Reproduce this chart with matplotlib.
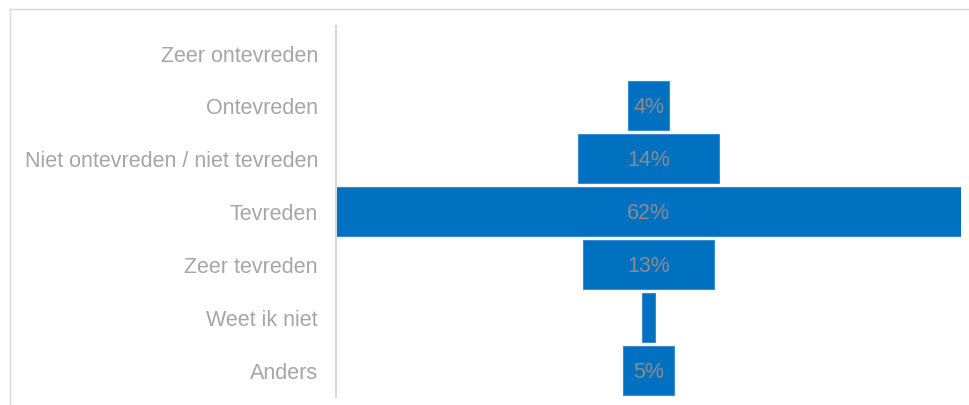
import matplotlib.pyplot as plt
from matplotlib.lines import Line2D

categories = ['Zeer ontevreden', 'Ontevreden', 'Niet ontevreden / niet tevreden',
              'Tevreden', 'Zeer tevreden', 'Weet ik niet', 'Anders']
values = [0, 4, 14, 62, 13, 1.3, 5]
labels = ['', '4%', '14%', '62%', '13%', '', '5%']

plt.rcParams['font.family'] = ['Liberation Sans', 'DejaVu Sans']

W, H = 969, 406
fig = plt.figure(figsize=(W / 100, H / 100), dpi=100)
ax = fig.add_axes([336 / W, 1 - 398 / H, (961 - 336) / W, (398 - 27) / H])

y = list(range(len(categories)))
left = [-v / 2 for v in values]
lw = [0.8 if v > 0 else 0 for v in values]
ax.barh(y, values, left=left, height=0.92, color='#0070c0',
        edgecolor='#3a8bd2', linewidth=lw)

for yi, lab in zip(y, labels):
    if lab:
        ax.text(0, yi + 0.02, lab, ha='center', va='center', fontsize=15.5, color='#8c8c8c')

ax.set_xlim(-31, 31)
ax.set_ylim(len(categories) - 0.5, -0.5)
ax.set_yticks(y)
ax.set_yticklabels(categories, fontsize=15.5, color='#a6a6a6')
ax.tick_params(axis='y', length=0, pad=13)
ax.set_xticks([])
for s in ['top', 'right', 'bottom']:
    ax.spines[s].set_visible(False)
ax.spines['left'].set_color('#d9d9d9')
ax.spines['left'].set_linewidth(1.5)

# light frame around the chart area
fig.add_artist(Line2D([10 / W, 10 / W], [0, 1 - 10 / H], color='#d9d9d9', lw=1))
fig.add_artist(Line2D([10 / W, 968 / W], [1 - 10 / H, 1 - 10 / H], color='#d9d9d9', lw=1))

fig.savefig('out.png', dpi=100)
